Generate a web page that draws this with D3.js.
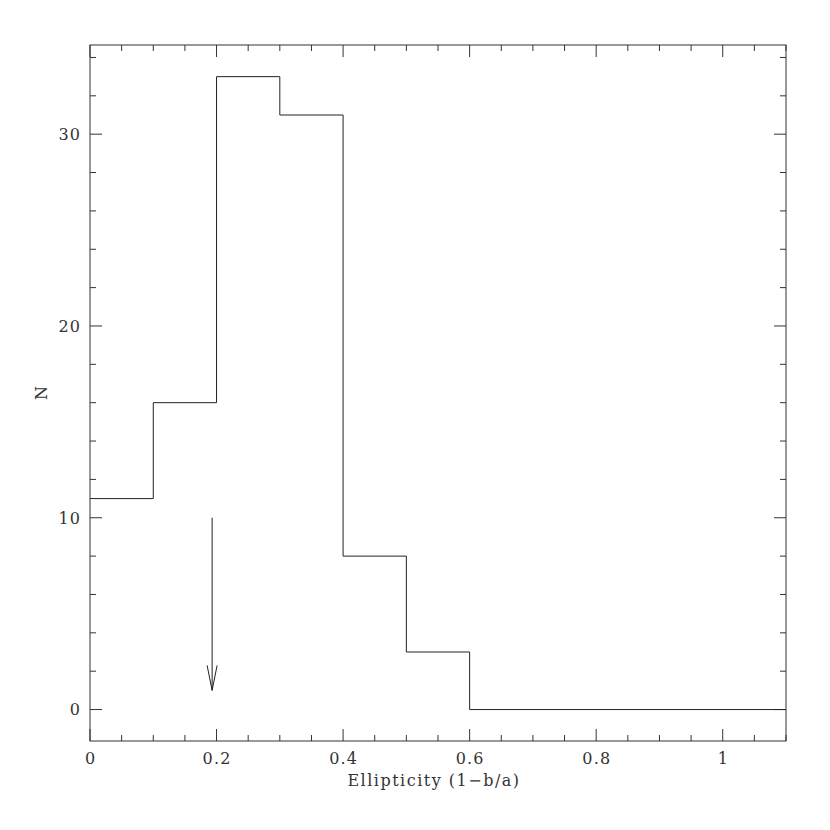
<!DOCTYPE html>
<html><head><meta charset="utf-8">
<script src="https://cdn.jsdelivr.net/npm/d3@7"></script>
<style>body{margin:0;background:#fff;}svg{display:block;}</style>
</head><body>
<svg id="c" width="830" height="830"></svg>
<script>
const binEdges = [0, 0.1, 0.2, 0.3, 0.4, 0.5, 0.6, 1.1];
const counts = [11, 16, 33, 31, 8, 3, 0];
const xMajorTicks = [0, 0.2, 0.4, 0.6, 0.8, 1];
const xTickLabels = ["0", "0.2", "0.4", "0.6", "0.8", "1"];
const yMajorTicks = [0, 10, 20, 30];
const yTickLabels = ["0", "10", "20", "30"];
const arrowX = 0.193;
const arrowFrom = 10;
const arrowTo = 1;
const xLabel = "Ellipticity (1\u2212b/a)";
const yLabel = "N";

const L = 90, R = 786, T = 45, B = 741;
const x = d3.scaleLinear().domain([0, 1.1]).range([L, R]);
const y = d3.scaleLinear().domain([-1.64, 34.65]).range([B, T]);
const svg = d3.select("#c");
const ink = "#333";
const font = "'DejaVu Serif', serif";

// frame
svg.append("rect").attr("x", L).attr("y", T).attr("width", R - L).attr("height", B - T)
  .attr("fill", "none").attr("stroke", ink).attr("stroke-width", 1);

const xMinor = d3.range(0, 1.1001, 0.05).filter(v => !xMajorTicks.some(m => Math.abs(m - v) < 1e-6));
const yMinor = d3.range(0, 34.5, 2).filter(v => !yMajorTicks.includes(v));

const tg = svg.append("g").attr("stroke", ink).attr("stroke-width", 1);
function xt(v, len) {
  tg.append("line").attr("x1", x(v)).attr("x2", x(v)).attr("y1", B).attr("y2", B - len);
  tg.append("line").attr("x1", x(v)).attr("x2", x(v)).attr("y1", T).attr("y2", T + len);
}
function yt(v, len) {
  tg.append("line").attr("y1", y(v)).attr("y2", y(v)).attr("x1", L).attr("x2", L + len);
  tg.append("line").attr("y1", y(v)).attr("y2", y(v)).attr("x1", R).attr("x2", R - len);
}
xMajorTicks.forEach(v => xt(v, 12));
xMinor.forEach(v => xt(v, 6));
yMajorTicks.forEach(v => yt(v, 12));
yMinor.forEach(v => yt(v, 6));

// tick labels
svg.append("g").selectAll("text").data(xMajorTicks).join("text")
  .attr("x", d => x(d) + 0.6).attr("y", B + 23).attr("text-anchor", "middle")
  .attr("font-family", font).attr("font-size", 16).attr("letter-spacing", 1.2).attr("fill", "#333")
  .text((d, i) => xTickLabels[i]);
svg.append("g").selectAll("text").data(yMajorTicks).join("text")
  .attr("x", L - 10 + 1.2).attr("y", d => y(d)).attr("dy", "0.36em").attr("text-anchor", "end")
  .attr("font-family", font).attr("font-size", 16).attr("letter-spacing", 1.2).attr("fill", "#333")
  .text((d, i) => yTickLabels[i]);

// axis titles
svg.append("text").attr("x", 434).attr("y", 786).attr("text-anchor", "middle")
  .attr("font-family", font).attr("font-size", 16).attr("letter-spacing", 1.5).attr("fill", "#333").text(xLabel);
svg.append("text").attr("transform", `translate(47,${(T + B) / 2}) rotate(-90)`)
  .attr("text-anchor", "middle").attr("font-family", font).attr("font-size", 16).attr("fill", "#333").text(yLabel);

// histogram step line
const pts = [];
counts.forEach((c, i) => { pts.push([binEdges[i], c]); pts.push([binEdges[i + 1], c]); });
svg.append("path").attr("d", d3.line().x(d => x(d[0])).y(d => y(d[1]))(pts))
  .attr("fill", "none").attr("stroke", "#222").attr("stroke-width", 1);

// arrow
const ax = x(arrowX), y0 = y(arrowFrom), y1 = y(arrowTo);
svg.append("line").attr("x1", ax).attr("x2", ax).attr("y1", y0).attr("y2", y1)
  .attr("stroke", "#222").attr("stroke-width", 1);
svg.append("path").attr("d", `M${ax - 5},${y1 - 25}L${ax},${y1}L${ax + 5},${y1 - 25}`)
  .attr("fill", "none").attr("stroke", "#222").attr("stroke-width", 1);
</script>
</body></html>
